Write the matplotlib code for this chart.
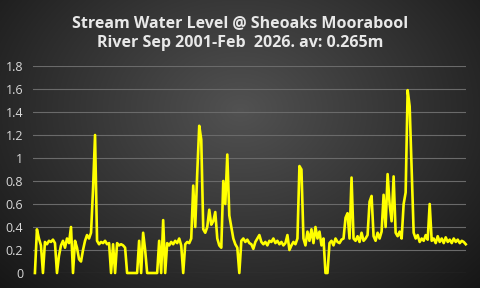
import numpy as np
import pandas as pd
import matplotlib
matplotlib.use("Agg")
import matplotlib.pyplot as plt

# stream level (m), every 6 weeks, Sep 2001 -> Feb 2026
levels = [
    0.00, 0.38, 0.30, 0.24, 0.00, 0.27, 0.25, 0.28, 0.27, 0.29,
    0.26, 0.00, 0.15, 0.24, 0.28, 0.22, 0.30, 0.26, 0.40, 0.00,
    0.28, 0.22, 0.12, 0.10, 0.20, 0.28, 0.33, 0.30, 0.35, 0.73,
    1.20, 0.28, 0.25, 0.27, 0.26, 0.28, 0.25, 0.26, 0.00, 0.25,
    0.00, 0.26, 0.24, 0.25, 0.24, 0.22, 0.00, 0.00, 0.00, 0.00,
    0.00, 0.00, 0.28, 0.00, 0.35, 0.20, 0.00, 0.00, 0.00, 0.00,
    0.00, 0.00, 0.28, 0.00, 0.46, 0.00, 0.26, 0.24, 0.27, 0.25,
    0.28, 0.26, 0.30, 0.24, 0.00, 0.25, 0.27, 0.26, 0.30, 0.76,
    0.40, 0.87, 1.28, 1.16, 0.38, 0.35, 0.40, 0.55, 0.42, 0.45,
    0.53, 0.30, 0.24, 0.22, 0.80, 0.60, 1.03, 0.50, 0.40, 0.30,
    0.25, 0.22, 0.00, 0.28, 0.30, 0.27, 0.29, 0.26, 0.25, 0.21,
    0.27, 0.30, 0.33, 0.27, 0.25, 0.27, 0.24, 0.28, 0.27, 0.30,
    0.26, 0.28, 0.25, 0.27, 0.24, 0.26, 0.33, 0.20, 0.24, 0.27,
    0.25, 0.30, 0.93, 0.90, 0.30, 0.24, 0.36, 0.28, 0.38, 0.26,
    0.40, 0.30, 0.36, 0.24, 0.30, 0.00, 0.00, 0.26, 0.28, 0.24,
    0.30, 0.27, 0.26, 0.29, 0.30, 0.48, 0.52, 0.30, 0.83, 0.30,
    0.28, 0.32, 0.27, 0.35, 0.28, 0.30, 0.33, 0.62, 0.67, 0.32,
    0.28, 0.35, 0.30, 0.36, 0.68, 0.40, 0.86, 0.60, 0.45, 0.84,
    0.35, 0.32, 0.36, 0.30, 0.60, 0.70, 1.59, 1.45, 0.90, 0.35,
    0.30, 0.33, 0.27, 0.30, 0.28, 0.33, 0.29, 0.60, 0.28, 0.30,
    0.26, 0.32, 0.27, 0.30, 0.26, 0.31, 0.27, 0.29, 0.26, 0.30,
    0.27, 0.29, 0.26, 0.28, 0.27, 0.25,
]
dates = pd.date_range("2001-09-01", "2026-02-15", periods=len(levels))

yticks = [0, 0.2, 0.4, 0.6, 0.8, 1, 1.2, 1.4, 1.6, 1.8]
ytick_labels = ["0", "0.2", "0.4", "0.6", "0.8", "1", "1.2", "1.4", "1.6", "1.8"]
title = "Stream Water Level @ Sheoaks Moorabool\nRiver Sep 2001-Feb  2026. av: 0.265m"

fig = plt.figure(figsize=(4.8, 2.88), dpi=100)

# radial grey background
bg = fig.add_axes([0, 0, 1, 1], zorder=0)
yy, xx = np.mgrid[0:288, 0:480]
r = np.sqrt(((xx - 240) / 300.0) ** 2 + ((yy - 110) / 230.0) ** 2)
shade = np.clip(0.32 - 0.21 * r, 0.09, 1)
bg.imshow(np.dstack([shade] * 3), aspect="auto", extent=[0, 1, 0, 1])
bg.axis("off")

ax = fig.add_axes([33 / 480, 1 - 273 / 288, 433 / 480, 207 / 288], zorder=1)
ax.patch.set_alpha(0)
ax.plot(dates, levels, color="#ffff00", linewidth=1.9, clip_on=False)

ax.set_ylim(0, 1.8)
ax.set_xlim(dates[0] - pd.Timedelta(days=40), dates[-1] + pd.Timedelta(days=5))
ax.set_yticks(yticks)
ax.set_yticklabels(ytick_labels)
ax.set_xticks([])
ax.grid(axis="y", color="#6a6a6a", linewidth=0.8)
ax.set_axisbelow(True)
ax.tick_params(axis="y", length=0, pad=7, labelsize=9, labelcolor="#d9d9d9")
for lab in ax.get_yticklabels():
    lab.set_family(["Open Sans", "DejaVu Sans"])
for s in ax.spines.values():
    s.set_visible(False)

fig.text(0.5, 0.885, title, ha="center", va="center", color="#e8e8e8",
         fontsize=11.5, fontweight="bold", family=["Open Sans", "DejaVu Sans"],
         linespacing=1.35)

plt.savefig("out.png", dpi=100)
